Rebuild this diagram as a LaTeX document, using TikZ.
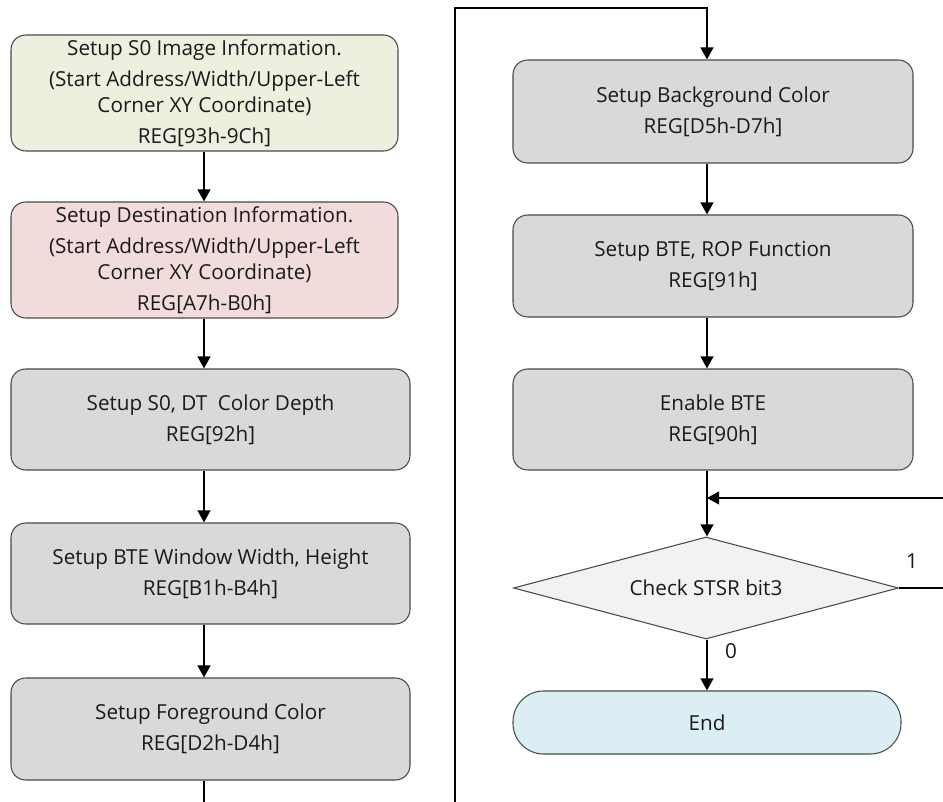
\documentclass[tikz,border=0pt]{standalone}
\usepackage{fontspec}
\setmainfont{Open Sans}
\usetikzlibrary{shapes.geometric,arrows.meta}
\definecolor{bgreen}{HTML}{EBF0DF}
\definecolor{bpink}{HTML}{F2DCDB}
\definecolor{bgray}{HTML}{D9D9D9}
\definecolor{bblue}{HTML}{DAEEF3}
\definecolor{dgray}{HTML}{F2F2F2}
\definecolor{edge}{HTML}{4A4A4A}
\definecolor{txt}{HTML}{1A1A1A}
\tikzset{
  box/.style={draw=edge, line width=0.8pt, rounded corners=11pt, inner sep=0pt,
    align=center, text=txt, font=\fontsize{15.5}{19.5}\selectfont},
  decision/.style={diamond, shape aspect=3.8, draw=edge, fill=dgray, line width=0.8pt, inner sep=0pt,
    align=center, text=txt, font=\fontsize{15.5}{19.5}\selectfont},
  arr/.style={line width=1.5pt, -{Triangle[length=9pt,width=9.5pt]}},
  lbl/.style={text=txt, font=\fontsize{15.5}{19.5}\selectfont, inner sep=0pt}
}
\begin{document}
\begin{tikzpicture}[x=0.75pt,y=-0.75pt]
\useasboundingbox (0,0) rectangle (943,802);
\clip (0,0) rectangle (943,802);
\fill[white] (0,0) rectangle (943,802);
% column coordinates
\coordinate (lc) at (204,0);
\coordinate (rc) at (707,0);
% left column
\node[box, fill=bgreen, minimum width=387*0.75pt, minimum height=116*0.75pt] (b1) at (204.5,93)
  {Setup S0 Image Information.\\[3.75pt](Start Address/Width/Upper-Left\\Corner XY Coordinate)\\[3.75pt]REG[93h-9Ch]};
\node[box, fill=bpink, minimum width=387*0.75pt, minimum height=116*0.75pt] (b2) at (204.5,260)
  {Setup Destination Information.\\[3.75pt](Start Address/Width/Upper-Left\\Corner XY Coordinate)\\[3.75pt]REG[A7h-B0h]};
\node[box, fill=bgray, minimum width=399*0.75pt, minimum height=101*0.75pt] (b3) at (210.5,419.5)
  {Setup S0, DT\ \ Color Depth\\[4pt]REG[92h]};
\node[box, fill=bgray, minimum width=399*0.75pt, minimum height=101*0.75pt] (b4) at (210.5,573.5)
  {Setup BTE Window Width, Height\\[4pt]REG[B1h-B4h]};
\node[box, fill=bgray, minimum width=399*0.75pt, minimum height=102*0.75pt] (b5) at (210.5,729)
  {Setup Foreground Color\\[4pt]REG[D2h-D4h]};
% right column
\node[box, fill=bgray, minimum width=400*0.75pt, minimum height=103*0.75pt] (bg) at (713,111.5)
  {Setup Background Color\\[4pt]REG[D5h-D7h]};
\node[box, fill=bgray, minimum width=400*0.75pt, minimum height=102*0.75pt] (rop) at (713,266)
  {Setup BTE, ROP Function\\[4pt]REG[91h]};
\node[box, fill=bgray, minimum width=400*0.75pt, minimum height=101*0.75pt] (en) at (713,419.5)
  {Enable BTE\\[4pt]REG[90h]};
\node[decision, minimum width=385*0.75pt, minimum height=102*0.75pt] (chk) at (706,588)
  {Check STSR bit3};
\node[box, fill=bblue, rounded corners=23pt, minimum width=388*0.75pt, minimum height=63*0.75pt] (end) at (707,722.5)
  {End};
% labels
\node[lbl] (one) at (912,561) {1};
\node[lbl] (zero) at (731,651) {0};
% helper coordinates
\coordinate (merge) at (707,498);
\coordinate (offL) at (204,830);
\coordinate (offR) at (455,830);
\coordinate (topL) at (455,8);
\coordinate (loopR) at (970,588);
% connectors left
\draw[arr] (b1.south -| lc) -- (b2.north -| lc);
\draw[arr] (b2.south -| lc) -- (b3.north -| lc);
\draw[arr] (b3.south -| lc) -- (b4.north -| lc);
\draw[arr] (b4.south -| lc) -- (b5.north -| lc);
% crossover
\draw[arr] (b5.south -| lc) -- (offL) -- (offR) -- (topL) -| (bg.north -| rc);
% connectors right
\draw[arr] (bg.south -| rc) -- (rop.north -| rc);
\draw[arr] (rop.south -| rc) -- (en.north -| rc);
\draw[arr] (en.south -| rc) -- (chk.north -| rc);
\draw[arr] (chk.south -| rc) -- (end.north -| rc);
\draw[arr] (chk.east) -- (loopR) |- (merge);
\end{tikzpicture}
\end{document}
